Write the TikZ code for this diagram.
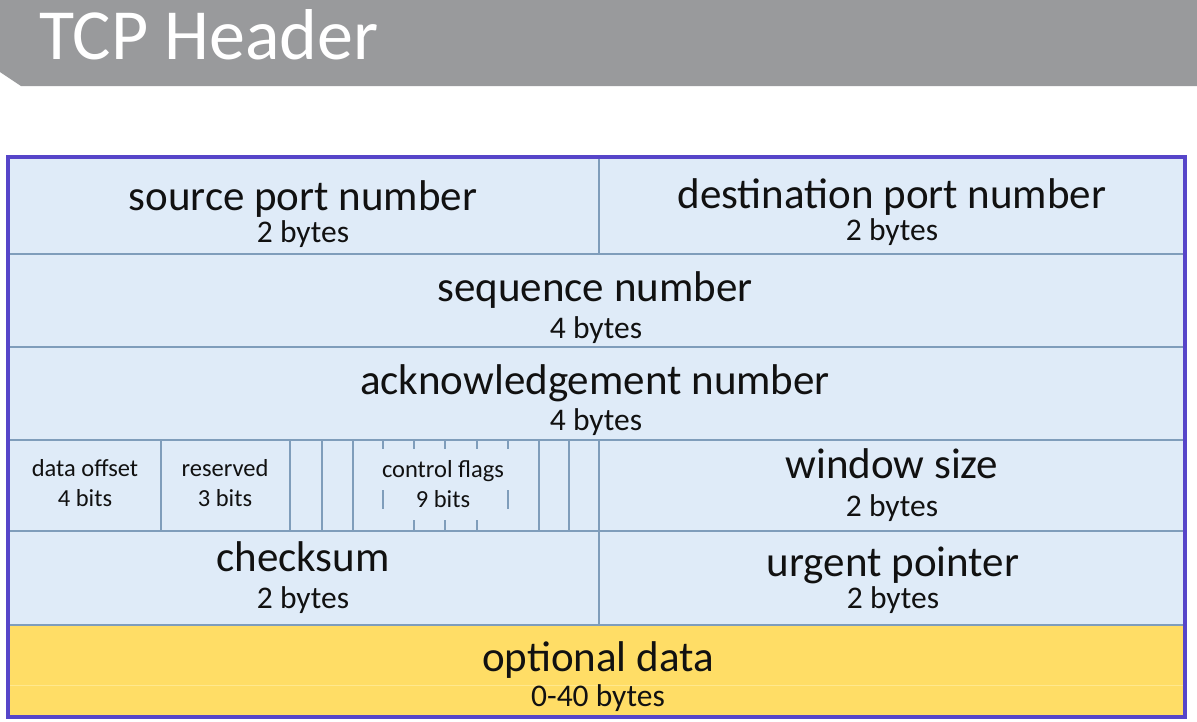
\documentclass[tikz,border=0pt]{standalone}
\usepackage{fontspec}
\setmainfont{Carlito}
\definecolor{band}{HTML}{999A9C}
\definecolor{cellfill}{HTML}{DFEBF8}
\definecolor{gridline}{HTML}{7F9DBB}
\definecolor{outerline}{HTML}{5645C9}
\definecolor{optfill}{HTML}{FFDD66}
\definecolor{optline}{HTML}{FFE88E}
\definecolor{ink}{HTML}{111111}
\tikzset{
  bigtext/.style={anchor=base, text=ink, inner sep=0pt, font=\fontsize{43}{43}\selectfont},
  midtext/.style={anchor=base, text=ink, inner sep=0pt, font=\fontsize{31.5}{32}\selectfont},
  smalltext/.style={anchor=base, text=ink, inner sep=0pt, font=\fontsize{24.5}{25}\selectfont},
  rowline/.style={draw=gridline, line width=2pt},
  bitline/.style={draw=gridline, line width=1.4pt},
}
\begin{document}
\begin{tikzpicture}[x=1pt,y=-1pt]
\useasboundingbox (0,0) rectangle (1197,721);
\fill[white] (0,0) rectangle (1197,721);
% title band
\fill[band] (0,0) -- (1197,0) -- (1197,86) -- (21,86) -- (0,72) -- cycle;
\node[anchor=base west, text=white, inner sep=0pt, font=\fontsize{72}{72}\selectfont] (title) at (39,59) {TCP Header};
% fills
\fill[cellfill] (8,157) rectangle (1185,625);
\fill[optfill] (8,625) rectangle (1185,717);
\draw[optline, line width=1pt] (10,685) -- (1183,685);
% row separators
\foreach \y in {254,347,440,531,625} \draw[rowline] (8,\y) -- (1185,\y);
\draw[rowline] (599,157) -- (599,254);
\draw[rowline] (599,440) -- (599,625);
% bit fields
\foreach \x in {161,290,322,353,539,569} \draw[bitline] (\x,440) -- (\x,531);
\foreach \x in {383,414,445,477,508} \draw[bitline] (\x,440) -- (\x,449);
\foreach \x in {383,508} \draw[bitline] (\x,490) -- (\x,509);
\foreach \x in {414,445,477} \draw[bitline] (\x,520) -- (\x,531);
% outer border
\draw[outerline, line width=4.6pt] (8,157) rectangle (1185,717);
% texts
\node[bigtext] (srcA) at (303,210) {source port number};
\node[midtext] (srcB) at (303,242) {2 bytes};
\node[bigtext] (dstA) at (892,208) {destination port number};
\node[midtext] (dstB) at (892,240) {2 bytes};
\node[bigtext] (seqA) at (595,301) {sequence number};
\node[midtext] (seqB) at (596,338) {4 bytes};
\node[bigtext] (ackA) at (595,394) {acknowledgement number};
\node[midtext] (ackB) at (596,430) {4 bytes};
\node[smalltext] (offA) at (85,476) {data offset};
\node[smalltext] (offB) at (85,506) {4 bits};
\node[smalltext] (resA) at (225,476) {reserved};
\node[smalltext] (resB) at (225,506) {3 bits};
\node[smalltext] (flgA) at (443,477) {control flags};
\node[smalltext] (flgB) at (443,507) {9 bits};
\node[bigtext] (winA) at (892,478) {window size};
\node[midtext] (winB) at (892,516) {2 bytes};
\node[bigtext] (chkA) at (303,571) {checksum};
\node[midtext] (chkB) at (303,608) {2 bytes};
\node[bigtext] (urgA) at (893,576) {urgent pointer};
\node[midtext] (urgB) at (893,608) {2 bytes};
\node[bigtext] (optA) at (598,671) {optional data};
\node[midtext] (optB) at (598,706) {0-40 bytes};
\end{tikzpicture}
\end{document}
